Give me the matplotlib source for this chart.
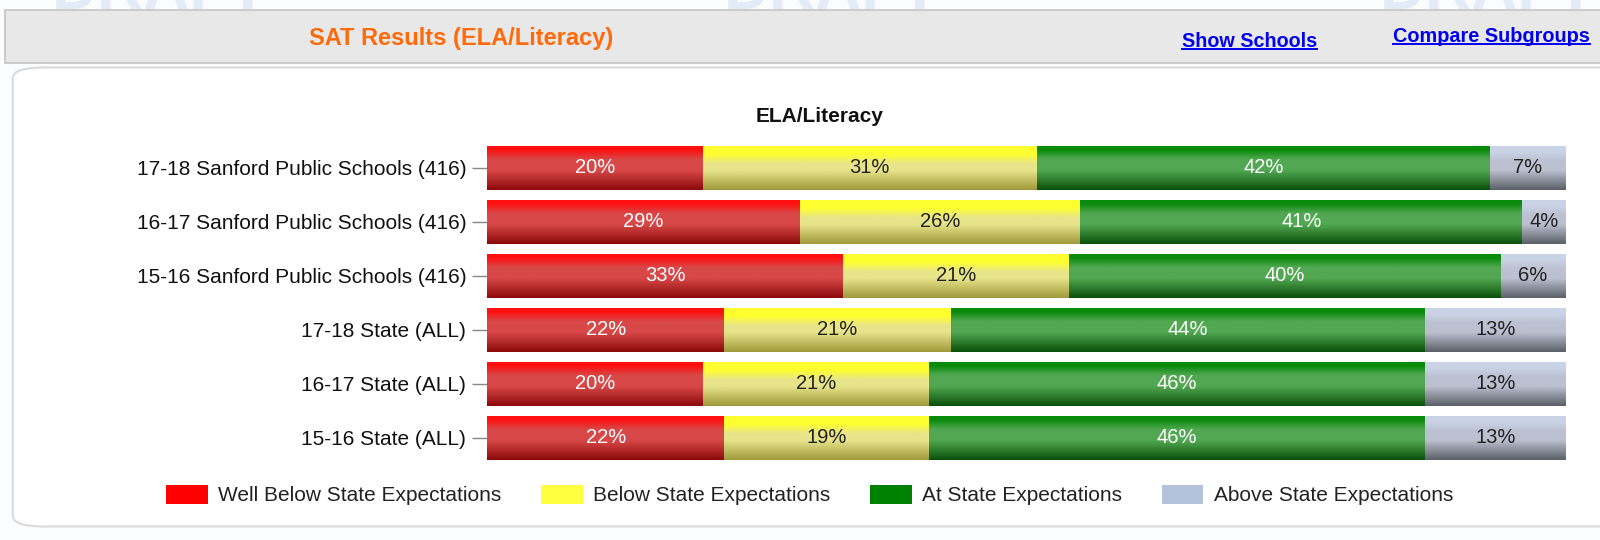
import numpy as np
import matplotlib
matplotlib.use("Agg")
import matplotlib.pyplot as plt
from matplotlib.patches import FancyBboxPatch, Rectangle
from matplotlib.lines import Line2D
from matplotlib.colors import to_rgb

plt.rcParams['font.family'] = ['Liberation Sans', 'DejaVu Sans']

# data (top row first)
groups = ['17-18 Sanford Public Schools (416)',
          '16-17 Sanford Public Schools (416)',
          '15-16 Sanford Public Schools (416)',
          '17-18 State (ALL)',
          '16-17 State (ALL)',
          '15-16 State (ALL)']
well_below = [20, 29, 33, 22, 20, 22]
below = [31, 26, 21, 21, 21, 19]
at_exp = [42, 41, 40, 44, 46, 46]
above = [7, 4, 6, 13, 13, 13]

series = [well_below, below, at_exp, above]
series_names = ['Well Below State Expectations', 'Below State Expectations',
                'At State Expectations', 'Above State Expectations']
legend_colors = ['#ff0000', '#ffff40', '#008000', '#b4c2dc']
# top edge / light band / bottom colours for the glossy bar look
grad_top = ['#ff1010', '#ffff30', '#0a8a0a', '#cad3e6']
grad_mid = ['#d84848', '#e8e48a', '#52a852', '#bcc0d0']
grad_bot = ['#8c0a0a', '#a09a3c', '#0a500a', '#5c6068']
top_band = [0.08, 0.18, 0.08, 0.12]
label_colors = ['#ffffff', '#222222', '#ffffff', '#222222']


def gradient(top, mid, bot, band, n=64):
    top, mid, bot = np.array(to_rgb(top)), np.array(to_rgb(mid)), np.array(to_rgb(bot))
    t = np.linspace(0, 1, n)
    out = np.zeros((n, 1, 3))
    for i, v in enumerate(t):
        if v < band:
            c = top
        elif v < band + 0.22:
            a = (v - band) / 0.22
            c = top * (1 - a) + mid * a
        elif v < 0.55:
            c = mid
        else:
            a = (v - 0.55) / 0.45
            c = mid * (1 - a) + bot * a
        out[i, 0] = c
    return out


fig = plt.figure(figsize=(16, 5.4), dpi=100)
fig.patch.set_facecolor('#fbfcfe')

# faint watermark, only its lower edge shows above the header
for x in [0.10, 0.52, 0.93]:
    fig.text(x, 0.984, 'DRAFT', fontsize=46, fontweight='bold', color='#e2ebf6',
             ha='center', va='baseline', zorder=0)

# panel
panel = FancyBboxPatch((0.008, 0.025), 1.02, 0.85, boxstyle='round,pad=0,rounding_size=0.02',
                       transform=fig.transFigure, facecolor='white', edgecolor='#dadada',
                       linewidth=1.5, zorder=1)
fig.add_artist(panel)

# header
header = Rectangle((0.003, 0.883), 1.0, 0.098, transform=fig.transFigure,
                   facecolor='#e8e8e8', edgecolor='#c4c4c4', linewidth=1.2, zorder=2)
fig.add_artist(header)
fig.text(0.288, 0.929, 'SAT Results (ELA/Literacy)', fontsize=17, fontweight='bold',
         color='#ff6a0a', ha='center', va='center', zorder=3)
links = [fig.text(0.781, 0.923, 'Show Schools', fontsize=14.2, fontweight='bold',
                  color='#0000ee', ha='center', va='center', zorder=3),
         fig.text(0.932, 0.932, 'Compare Subgroups', fontsize=14.3, fontweight='bold',
                  color='#0000ee', ha='center', va='center', zorder=3)]

fig.text(0.5125, 0.785, 'ELA/Literacy', fontsize=15, fontweight='bold',
         color='#111111', ha='center', va='center', zorder=3)

ax = fig.add_axes([0.3044, 0.139, 0.674, 0.6])
ax.set_zorder(3)
ax.patch.set_alpha(0)

n = len(groups)
y = np.arange(n)[::-1]
h = 0.8
left = np.zeros(n)
for k, vals in enumerate(series):
    vals = np.array(vals, dtype=float)
    bars = ax.barh(y, vals, left=left, height=h, color=legend_colors[k],
                   edgecolor='none', label=series_names[k])
    img = gradient(grad_top[k], grad_mid[k], grad_bot[k], top_band[k])
    for b, yy, l, v in zip(bars, y, left, vals):
        im = ax.imshow(img, extent=(l, l + v, yy - h / 2, yy + h / 2), origin='upper',
                       aspect='auto', interpolation='bilinear', zorder=2)
        im.set_clip_path(b)
        ax.text(l + v / 2, yy, f'{int(v)}%', ha='center', va='center',
                fontsize=14.5, color=label_colors[k], zorder=4)
    left = left + vals

ax.set_xlim(0, 100)
ax.set_ylim(-0.5, n - 0.5)
ax.set_yticks(y)
ax.set_yticklabels(groups, fontsize=15, color='#111111')
ax.tick_params(axis='y', length=11, width=1, color='#888888', pad=4)
ax.set_xticks([])
for s in ax.spines.values():
    s.set_visible(False)

handles = [Rectangle((0, 0), 1, 1, facecolor=c, edgecolor='none') for c in legend_colors]
leg = fig.legend(handles, series_names, loc='center', bbox_to_anchor=(0.506, 0.083), ncol=4,
                 frameon=False, fontsize=15, handlelength=2.0, handleheight=1.0,
                 handletextpad=0.5, columnspacing=1.9)
leg.set_zorder(4)
for t in leg.get_texts():
    t.set_color('#222222')

# underline the header links
fig.canvas.draw()
r = fig.canvas.get_renderer()
inv = fig.transFigure.inverted()
for t in links:
    bb = t.get_window_extent(r)
    (x0, y0), (x1, _) = inv.transform([(bb.x0, bb.y0), (bb.x1, bb.y1)])
    fig.add_artist(Line2D([x0, x1], [y0 + 0.004, y0 + 0.004], transform=fig.transFigure,
                          color='#0000ee', linewidth=1.4, zorder=3))

fig.savefig('out.png', dpi=100)
